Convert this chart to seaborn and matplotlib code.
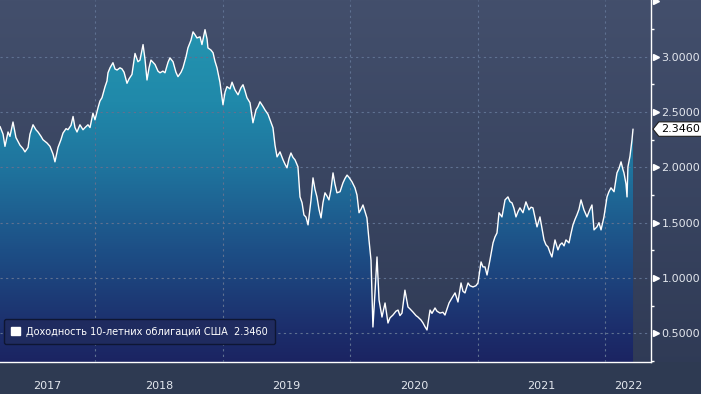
import numpy as np
import pandas as pd
import matplotlib
matplotlib.use("Agg")
import matplotlib.pyplot as plt
import seaborn as sns
import matplotlib.transforms as mtransforms
from matplotlib.colors import LinearSegmentedColormap
from matplotlib.patches import Patch, Rectangle
from matplotlib.path import Path

# ---------------- data ----------------
years = [
    2017.251, 2017.275, 2017.290, 2017.314, 2017.329, 2017.353, 2017.376, 2017.408, 2017.431, 2017.447,
    2017.471, 2017.486, 2017.510, 2017.533, 2017.549, 2017.573, 2017.588, 2017.620, 2017.643, 2017.667,
    2017.682, 2017.706, 2017.729, 2017.745, 2017.769, 2017.784, 2017.808, 2017.824, 2017.839, 2017.855,
    2017.878, 2017.902, 2017.918, 2017.941, 2017.957, 2017.980, 2017.996, 2018.020, 2018.035, 2018.051,
    2018.075, 2018.090, 2018.098, 2018.114, 2018.137, 2018.153, 2018.169, 2018.192, 2018.208, 2018.224,
    2018.247, 2018.263, 2018.286, 2018.310, 2018.333, 2018.349, 2018.373, 2018.388, 2018.404, 2018.420,
    2018.435, 2018.451, 2018.467, 2018.490, 2018.506, 2018.529, 2018.545, 2018.569, 2018.584, 2018.608,
    2018.631, 2018.647, 2018.671, 2018.686, 2018.710, 2018.725, 2018.749, 2018.765, 2018.780, 2018.796,
    2018.820, 2018.835, 2018.859, 2018.875, 2018.882, 2018.906, 2018.922, 2018.937, 2018.953, 2018.976,
    2019.000, 2019.016, 2019.031, 2019.055, 2019.071, 2019.094, 2019.118, 2019.141, 2019.157, 2019.173,
    2019.188, 2019.212, 2019.235, 2019.259, 2019.275, 2019.290, 2019.314, 2019.329, 2019.353, 2019.369,
    2019.392, 2019.408, 2019.424, 2019.447, 2019.471, 2019.486, 2019.502, 2019.518, 2019.533, 2019.549,
    2019.565, 2019.588, 2019.604, 2019.620, 2019.635, 2019.651, 2019.667, 2019.690, 2019.706, 2019.722,
    2019.737, 2019.753, 2019.769, 2019.784, 2019.800, 2019.816, 2019.831, 2019.847, 2019.863, 2019.878,
    2019.894, 2019.918, 2019.941, 2019.957, 2019.973, 2019.988, 2020.012, 2020.035, 2020.051, 2020.067,
    2020.082, 2020.098, 2020.114, 2020.129, 2020.145, 2020.161, 2020.176, 2020.192, 2020.208, 2020.224,
    2020.247, 2020.271, 2020.294, 2020.310, 2020.333, 2020.357, 2020.373, 2020.388, 2020.404, 2020.427,
    2020.451, 2020.467, 2020.490, 2020.514, 2020.529, 2020.553, 2020.569, 2020.584, 2020.600, 2020.624,
    2020.639, 2020.663, 2020.678, 2020.702, 2020.725, 2020.741, 2020.757, 2020.773, 2020.796, 2020.820,
    2020.843, 2020.867, 2020.882, 2020.898, 2020.922, 2020.937, 2020.961, 2020.984, 2021.000, 2021.024,
    2021.039, 2021.055, 2021.071, 2021.094, 2021.118, 2021.133, 2021.149, 2021.165, 2021.188, 2021.212,
    2021.235, 2021.251, 2021.267, 2021.282, 2021.298, 2021.314, 2021.329, 2021.353, 2021.376, 2021.400,
    2021.416, 2021.431, 2021.447, 2021.463, 2021.486, 2021.502, 2021.518, 2021.533, 2021.549, 2021.565,
    2021.580, 2021.604, 2021.627, 2021.643, 2021.659, 2021.675, 2021.690, 2021.714, 2021.729, 2021.745,
    2021.761, 2021.776, 2021.792, 2021.808, 2021.831, 2021.855, 2021.878, 2021.894, 2021.910, 2021.933,
    2021.949, 2021.965, 2021.988, 2022.012, 2022.027, 2022.043, 2022.067, 2022.090, 2022.106, 2022.122,
    2022.137, 2022.145, 2022.161, 2022.169, 2022.176, 2022.192, 2022.200, 2022.208, 2022.216,
]
yields = [
    2.37, 2.30, 2.19, 2.32, 2.28, 2.41, 2.27, 2.20, 2.17, 2.14,
    2.18, 2.30, 2.385, 2.34, 2.32, 2.28, 2.25, 2.22, 2.19, 2.12,
    2.05, 2.18, 2.25, 2.31, 2.35, 2.34, 2.38, 2.46, 2.36, 2.32,
    2.385, 2.34, 2.36, 2.385, 2.36, 2.49, 2.43, 2.54, 2.60, 2.63,
    2.73, 2.78, 2.855, 2.90, 2.946, 2.89, 2.88, 2.90, 2.89, 2.86,
    2.76, 2.80, 2.84, 3.03, 2.955, 2.97, 3.11, 2.98, 2.79, 2.90,
    2.97, 2.95, 2.93, 2.87, 2.855, 2.87, 2.855, 2.95, 2.99, 2.955,
    2.86, 2.82, 2.86, 2.90, 3.00, 3.08, 3.15, 3.225, 3.20, 3.17,
    3.18, 3.11, 3.245, 3.16, 3.08, 3.06, 3.036, 2.96, 2.90, 2.77,
    2.566, 2.68, 2.73, 2.71, 2.77, 2.70, 2.656, 2.72, 2.747, 2.69,
    2.63, 2.584, 2.403, 2.52, 2.55, 2.593, 2.55, 2.52, 2.48, 2.43,
    2.358, 2.20, 2.095, 2.14, 2.068, 2.03, 1.996, 2.08, 2.13, 2.09,
    2.068, 2.005, 1.733, 1.68, 1.57, 1.55, 1.48, 1.70, 1.905, 1.80,
    1.733, 1.62, 1.543, 1.68, 1.77, 1.74, 1.706, 1.80, 1.95, 1.85,
    1.77, 1.78, 1.86, 1.90, 1.93, 1.91, 1.869, 1.815, 1.75, 1.59,
    1.62, 1.66, 1.60, 1.543, 1.344, 1.16, 0.557, 0.865, 1.19, 0.80,
    0.647, 0.774, 0.593, 0.64, 0.665, 0.70, 0.71, 0.66, 0.683, 0.89,
    0.738, 0.72, 0.692, 0.66, 0.647, 0.62, 0.593, 0.56, 0.53, 0.71,
    0.68, 0.729, 0.70, 0.683, 0.69, 0.665, 0.72, 0.774, 0.82, 0.865,
    0.783, 0.955, 0.88, 0.865, 0.955, 0.93, 0.919, 0.93, 0.955, 1.145,
    1.10, 1.10, 1.027, 1.163, 1.317, 1.37, 1.407, 1.59, 1.552, 1.706,
    1.733, 1.69, 1.679, 1.63, 1.552, 1.60, 1.634, 1.59, 1.688, 1.616,
    1.64, 1.634, 1.55, 1.462, 1.552, 1.45, 1.344, 1.30, 1.281, 1.23,
    1.19, 1.344, 1.254, 1.30, 1.317, 1.29, 1.344, 1.317, 1.40, 1.48,
    1.53, 1.57, 1.62, 1.706, 1.616, 1.552, 1.62, 1.66, 1.435, 1.462,
    1.50, 1.435, 1.552, 1.733, 1.78, 1.815, 1.78, 1.95, 1.99, 2.05,
    1.98, 1.95, 1.85, 1.733, 2.005, 2.10, 2.176, 2.25, 2.346,
]
year_labels = ["2017", "2018", "2019", "2020", "2021", "2022"]
y_ticks = [0.5, 1.0, 1.5, 2.0, 2.5, 3.0]
series_name = "Доходность 10-летних облигаций США"
last_value = 2.3460

X_MIN, X_MAX = 2017.251, 2022.357
Y_MIN, Y_MAX = 0.2405, 3.513

sns.set_theme(style="dark")
plt.rcParams['font.family'] = ['DejaVu Sans']

W, H = 701, 394
fig = plt.figure(figsize=(W / 100, H / 100), dpi=100)

# ---------------- figure background ----------------
bg = fig.add_axes([0, 0, 1, 1], zorder=-10)
bg.set_axis_off()
bg_cmap = LinearSegmentedColormap.from_list('bg', ['#434f6c', '#2e3954'])
bg.imshow(np.linspace(0, 1, 256).reshape(-1, 1), aspect='auto', cmap=bg_cmap,
          extent=[0, 1, 0, 1], origin='upper')
bg.add_patch(Rectangle((0, 0), 1, 32 / H, color='#2e3a52', lw=0))
bg.set_xlim(0, 1)
bg.set_ylim(0, 1)

# ---------------- main axes ----------------
ax = fig.add_axes([0, 32 / H, 651 / W, 362 / H])
ax.patch.set_alpha(0)

df = pd.DataFrame({'year': years, 'yield': yields})

poly = ax.fill_between(df['year'], df['yield'], Y_MIN, facecolor='none', lw=0)
clip_path = poly.get_paths()[0]
fill_cmap = LinearSegmentedColormap.from_list('fill', [
    (0.00, '#1b2462'), (0.09, '#1c2e6c'), (0.31, '#1d4f86'),
    (0.53, '#1f739d'), (0.72, '#2089aa'), (1.00, '#2598b2')])
im = ax.imshow(np.linspace(0, 1, 256).reshape(-1, 1), cmap=fill_cmap, aspect='auto',
               extent=[X_MIN, X_MAX, Y_MIN, Y_MAX], origin='lower', zorder=1)
im.set_clip_path(clip_path, ax.transData)

sns.lineplot(data=df, x='year', y='yield', color='white', lw=1.0, ax=ax, zorder=4)

ax.set_xlim(X_MIN, X_MAX)
ax.set_ylim(Y_MIN, Y_MAX)
ax.set_xlabel('')
ax.set_ylabel('')

# grid
ax.set_axisbelow(False)
ax.grid(True, which='major', color='#5f7191', linestyle=(0, (2, 3)), lw=0.8)

# x axis: year separators + quarter ticks
year_bounds = [int(y) for y in year_labels[1:]]
ax.set_xticks(year_bounds)
ax.set_xticks([y + q for y in range(2017, 2023) for q in (0.25, 0.5, 0.75)
               if X_MIN < y + q < X_MAX], minor=True)
ax.tick_params(axis='x', which='major', direction='out', length=23, width=1,
               color='#9aa2b4', labelbottom=False)
ax.tick_params(axis='x', which='minor', direction='out', length=2.5, width=1,
               color='white', labelbottom=False)
starts = [max(X_MIN, int(l)) for l in year_labels]
ends = [min(X_MAX, int(l) + 1) for l in year_labels]
xtrans = mtransforms.blended_transform_factory(ax.transData, fig.transFigure)
for lab, s, e in zip(year_labels, starts, ends):
    ax.text((s + e) / 2, 8 / H, lab, transform=xtrans, ha='center', va='center',
            color='#e3e7ee', fontsize=8)

# y axis on the right
ax.yaxis.tick_right()
ax.set_yticks(y_ticks)
ax.set_yticklabels([f"{v:.4f}" for v in y_ticks])
ax.set_yticks([v / 4 for v in range(1, 14) if (v / 4) not in y_ticks and v != 14], minor=True)
ax.tick_params(axis='y', which='major', length=0, pad=7.5, labelsize=8, labelcolor='#e3e7ee')
ax.tick_params(axis='y', which='minor', direction='out', length=2.5, width=1, color='white')
ytrans = mtransforms.offset_copy(
    mtransforms.blended_transform_factory(ax.transAxes, ax.transData), fig=fig, x=4.5, units='dots')
ax.plot([1.0] * (len(y_ticks) + 1), y_ticks + [3.5], ls='none', marker='>', ms=4.5,
        color='white', mec='white', transform=ytrans, clip_on=False)

for side in ['top', 'left']:
    ax.spines[side].set_visible(False)
for side in ['right', 'bottom']:
    ax.spines[side].set_visible(True)
    ax.spines[side].set_color('white')
    ax.spines[side].set_linewidth(1)


# last value tag
def tag_box(x0, y0, width, height, mutation_size):
    pad = 0.2 * mutation_size
    x0 -= pad
    y0 -= pad
    width += 2 * pad
    height += 2 * pad
    tip = height * 0.4
    verts = [(x0 - tip, y0 + height / 2), (x0, y0), (x0 + width, y0),
             (x0 + width, y0 + height), (x0, y0 + height), (x0 - tip, y0 + height / 2)]
    return Path(verts, [Path.MOVETO] + [Path.LINETO] * 4 + [Path.CLOSEPOLY])


ax.annotate(f"{last_value:.4f}", xy=(1, last_value), xycoords=('axes fraction', 'data'),
            xytext=(10, 0), textcoords='offset pixels', ha='left', va='center',
            color='black', fontsize=8,
            bbox=dict(boxstyle=tag_box, fc='white', ec='#202020', lw=0.8),
            annotation_clip=False)

# legend
leg = ax.legend(handles=[Patch(facecolor='white', edgecolor='white')],
                labels=[f"{series_name}  {last_value:.4f}"],
                loc='lower left', bbox_to_anchor=(0.006, 0.05), borderaxespad=0,
                frameon=True, fancybox=True, facecolor='#1f2b5f', edgecolor='#0e1633',
                labelcolor='white', fontsize=7, handlelength=0.9, handleheight=0.9,
                handletextpad=0.6, borderpad=0.75)
leg.get_frame().set_alpha(1)
leg.get_frame().set_linewidth(1)

fig.savefig('out.png', dpi=100, facecolor=fig.get_facecolor())
